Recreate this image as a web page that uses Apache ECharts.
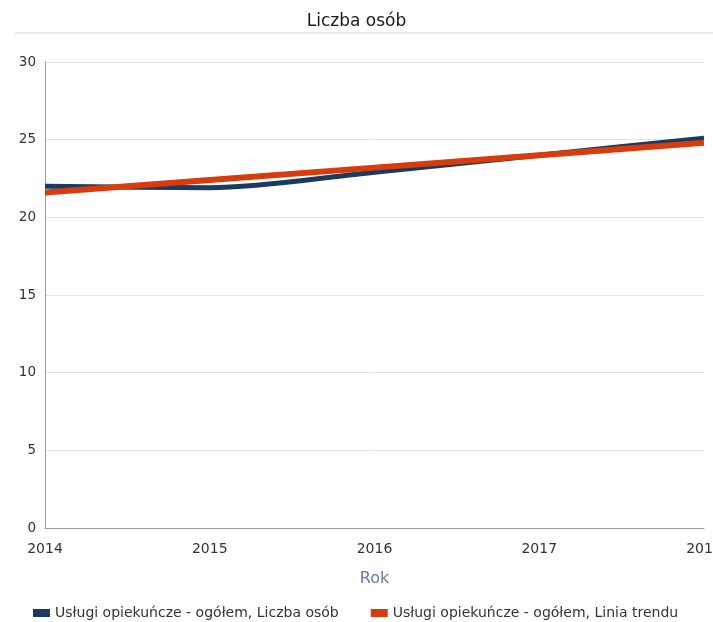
<!DOCTYPE html>
<html><head><meta charset="utf-8">
<script src="https://cdn.jsdelivr.net/npm/echarts@6/dist/echarts.min.js"></script>
<style>html,body{margin:0;padding:0;background:#fff}#c{width:713px;height:622px}</style>
</head><body><div id="c"></div>
<script>
const years = ['2014','2015','2016','2017','2018'];
const liczbaOsob = [22.0, 21.9, 22.9, 24.0, 25.1];
const liniaTrendu = [21.6, 22.4, 23.2, 24.0, 24.8];
const yTicks = [0, 5, 10, 15, 20, 25, 30];
const seriesNames = ['Usługi opiekuńcze - ogółem, Liczba osób', 'Usługi opiekuńcze - ogółem, Linia trendu'];

const chart = echarts.init(document.getElementById('c'));
chart.setOption({
  animation: false,
  textStyle: { fontFamily: 'DejaVu Sans, Verdana, sans-serif' },
  title: {
    text: 'Liczba osób', left: 'center', top: 8,
    textStyle: { fontSize: 17, fontWeight: 'normal', color: '#1a1a1a', fontFamily: 'DejaVu Sans' }
  },
  graphic: [{
    type: 'line', shape: { x1: 15, y1: 33, x2: 713, y2: 33 },
    style: { stroke: '#e2e2e2', lineWidth: 1.5 }
  }],
  grid: { left: 45, right: 9, top: 62, bottom: 94, containLabel: false, outerBoundsMode: 'none' },
  legend: {
    top: 601, left: 28, itemGap: 32, itemWidth: 17, itemHeight: 8,
    icon: 'rect',
    textStyle: { fontSize: 14, color: '#333' },
    data: seriesNames
  },
  xAxis: {
    type: 'category', data: years, boundaryGap: false,
    name: 'Rok', nameLocation: 'middle', nameGap: 43,
    nameTextStyle: { color: '#6b7a99', fontSize: 16 },
    axisLine: { lineStyle: { color: '#999' } },
    axisTick: { show: false },
    axisLabel: { color: '#333', fontSize: 14, margin: 14, showMaxLabel: true },
    axisPointer: { show: false }
  },
  yAxis: {
    type: 'value', min: yTicks[0], max: yTicks[yTicks.length - 1], interval: 5,
    axisLine: { show: true, lineStyle: { color: '#999' } },
    axisTick: { show: false },
    axisLabel: { color: '#333', fontSize: 13.5, margin: 9 },
    splitLine: { lineStyle: { color: '#e3e3e3' } }
  },
  series: [
    {
      name: seriesNames[0], type: 'line', data: liczbaOsob, smooth: 0.3,
      symbol: 'none', lineStyle: { width: 5, color: '#1b3a5f' },
      itemStyle: { color: '#1b3a5f' }
    },
    {
      name: seriesNames[1], type: 'line', data: liniaTrendu,
      symbol: 'none', lineStyle: { width: 6, color: '#d83c0c' },
      itemStyle: { color: '#d83c0c' }
    }
  ]
});
</script></body></html>
